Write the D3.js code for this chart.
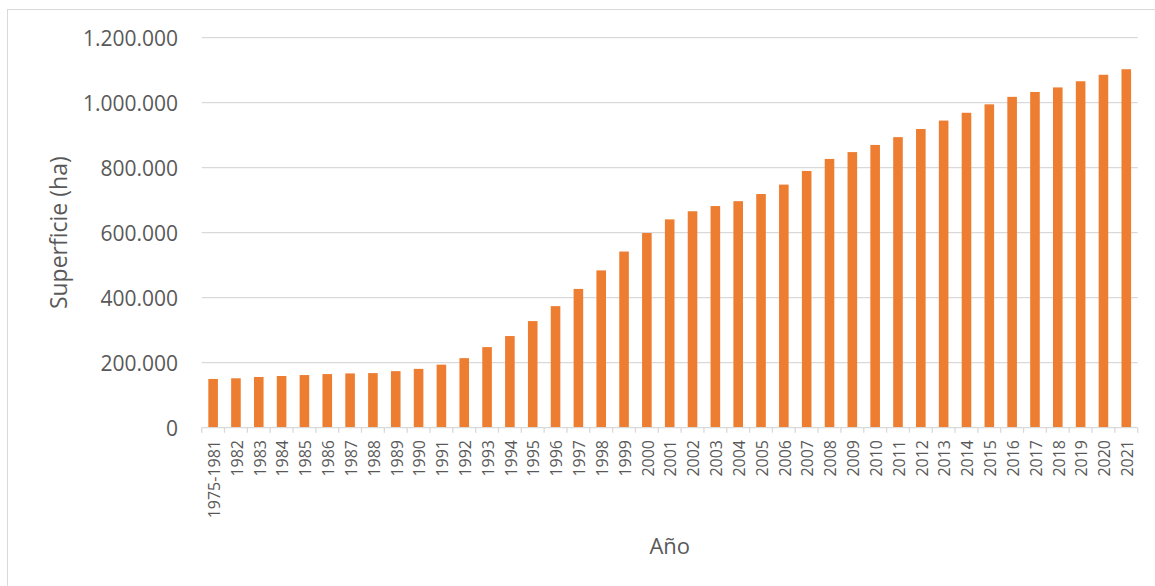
<!DOCTYPE html>
<html><head><meta charset="utf-8">
<script src="https://cdn.jsdelivr.net/npm/d3@7"></script>
<style>
html,body{margin:0;padding:0;background:#fff;overflow:hidden;}
svg{display:block;font-family:"Open Sans",sans-serif;}
</style></head>
<body>
<svg id="c" width="1155" height="586"></svg>
<script>
const categories = ["1975-1981","1982","1983","1984","1985","1986","1987","1988","1989","1990",
"1991","1992","1993","1994","1995","1996","1997","1998","1999","2000",
"2001","2002","2003","2004","2005","2006","2007","2008","2009","2010",
"2011","2012","2013","2014","2015","2016","2017","2018","2019","2020","2021"];
const superficie = [150000,152000,156000,159000,162000,165000,167000,168000,174000,181000,
194000,214000,248000,282000,328000,374000,427000,484000,542000,599000,
641000,666000,682000,697000,719000,748000,790000,827000,848000,870000,
894000,919000,945000,969000,995000,1018000,1033000,1047000,1066000,1086000,1103000];
const yTicks = [0,200000,400000,600000,800000,1000000,1200000];
const yTitle = "Superficie (ha)";
const xTitle = "Año";

const svg = d3.select("#c");
const L = 201.7, R = 1137.7, T = 37.7, B = 427.7;
const textColor = "#595959", gridColor = "#D9D9D9", barColor = "#ED7D31";

const fmt = d3.formatLocale({decimal:",",thousands:".",grouping:[3],currency:["","€"]}).format(",");

// chart border (extends beyond right/bottom edges)
svg.append("rect").attr("x",7.5).attr("y",9.5).attr("width",1200).attr("height",700)
  .attr("fill","none").attr("stroke",gridColor).attr("stroke-width",1);

const x = d3.scaleBand().domain(categories).range([L,R]).paddingInner(0.58).paddingOuter(0.29);
const y = d3.scaleLinear().domain([0,1200000]).range([B,T]);
const step = x.step(), bw = x.bandwidth();

// gridlines
svg.append("g").selectAll("line").data(yTicks.filter(d=>d>0)).join("line")
  .attr("x1",L).attr("x2",R).attr("y1",d=>y(d)).attr("y2",d=>y(d))
  .attr("stroke",gridColor).attr("stroke-width",1.3);

// y axis labels
const yAxis = d3.axisLeft(y).tickValues(yTicks).tickFormat(d=>fmt(d)).tickSize(0).tickPadding(0);
const gy = svg.append("g").attr("transform",`translate(${178},0)`).call(yAxis);
gy.select(".domain").remove();
gy.selectAll("text").attr("fill",textColor).attr("font-size",21).attr("font-family","'Open Sans',sans-serif").attr("dy","0.35em");

// bars
svg.append("g").selectAll("rect").data(categories).join("rect")
  .attr("x",d=>x(d)).attr("width",bw)
  .attr("y",(d,i)=>y(superficie[i])).attr("height",(d,i)=>B - y(superficie[i]))
  .attr("fill",barColor);

// x axis line
svg.append("line").attr("x1",L).attr("x2",R).attr("y1",B).attr("y2",B)
  .attr("stroke",gridColor).attr("stroke-width",1.3);
// tick marks at band boundaries
const bounds = categories.map(c=>x(c)+bw/2-step/2).concat([x(categories[categories.length-1])+bw/2+step/2]);
svg.append("g").selectAll("line").data(bounds).join("line")
  .attr("x1",d=>d).attr("x2",d=>d).attr("y1",B).attr("y2",B+5)
  .attr("stroke",gridColor).attr("stroke-width",1.3);

// x labels rotated
svg.append("g").selectAll("text").data(categories).join("text")
  .attr("transform",d=>`translate(${x(d)+bw/2+1},${440}) rotate(-90)`)
  .attr("text-anchor","end").attr("dy","0.36em")
  .attr("fill",textColor).attr("font-size",16)
  .text(d=>d);

// axis titles
svg.append("text").attr("transform",`translate(${67},${(T+B)/2}) rotate(-90)`)
  .attr("text-anchor","middle").attr("fill",textColor).attr("font-size",23).text(yTitle);
svg.append("text").attr("x",(L+R)/2).attr("y",554).attr("text-anchor","middle")
  .attr("fill",textColor).attr("font-size",22).text(xTitle);
</script>
</body></html>
